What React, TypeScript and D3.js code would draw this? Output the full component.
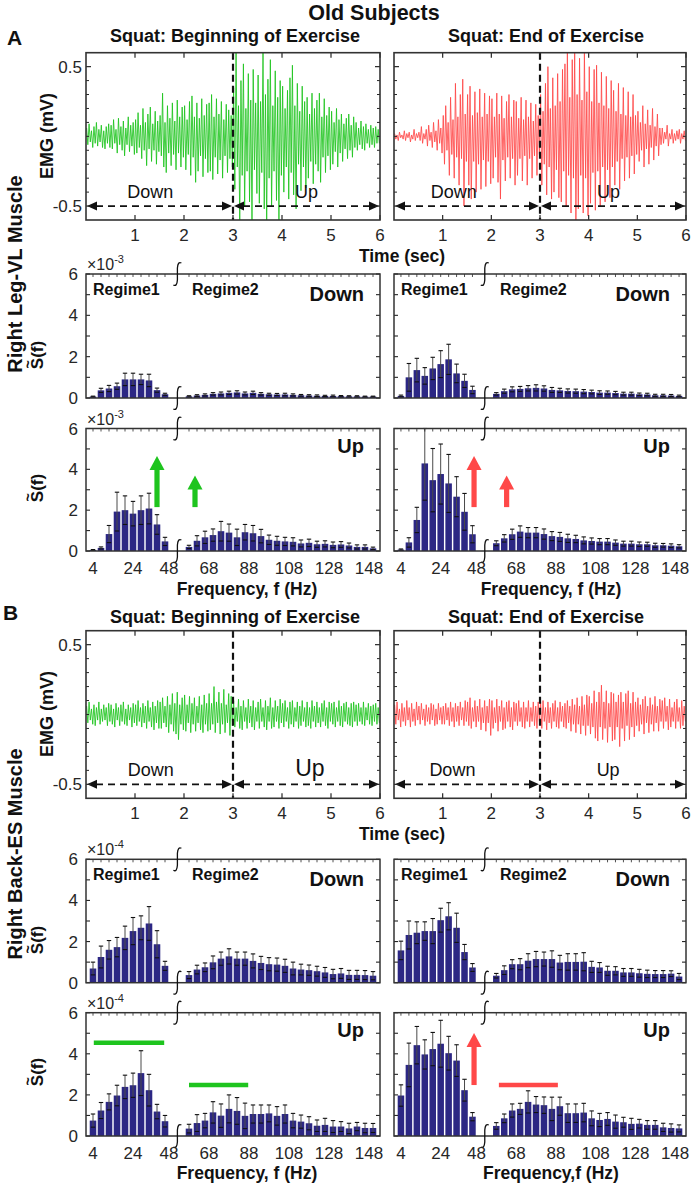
import React from "react";
import * as d3 from "d3";

const FONT = '"Liberation Sans", Arial, Helvetica, sans-serif';
const INK = "#262626";
const GREEN = "#1ec41e";
const RED = "#ff4848";
const BAR = "#2c2784";

// ---------------- EMG traces (per 0.05 s window: upper / lower excursion, mV) ----------------
const EMG_DT = 0.05;
const emgBeginA_hi = [
  0.06,0.09,0.04,0.07,0.10,0.05,0.08,0.04,0.07,0.09,
  0.08,0.12,0.05,0.13,0.07,0.11,0.06,0.14,0.08,0.10,
  0.12,0.17,0.08,0.20,0.10,0.16,0.21,0.09,0.18,0.11,
  0.15,0.31,0.10,0.22,0.13,0.24,0.11,0.26,0.14,0.21,
  0.22,0.12,0.25,0.29,0.14,0.24,0.13,0.27,0.15,0.23,
  0.24,0.30,0.14,0.27,0.16,0.25,0.12,0.23,0.19,0.15,
  0.35,0.62,0.22,0.40,0.52,0.20,0.45,0.26,0.48,0.24,
  0.44,0.25,0.62,0.30,0.41,0.55,0.22,0.47,0.28,0.40,
  0.36,0.20,0.33,0.42,0.51,0.22,0.38,0.18,0.36,0.25,
  0.28,0.16,0.31,0.20,0.26,0.31,0.14,0.27,0.15,0.21,
  0.18,0.10,0.20,0.12,0.16,0.09,0.13,0.16,0.08,0.14,
  0.10,0.06,0.11,0.07,0.09,0.05,0.08,0.06,0.07,0.05,
];
const emgBeginA_lo = [
  -0.06,-0.04,-0.08,-0.05,-0.07,-0.04,-0.08,-0.09,-0.05,-0.08,
  -0.09,-0.05,-0.12,-0.06,-0.10,-0.14,-0.06,-0.11,-0.07,-0.13,
  -0.12,-0.08,-0.16,-0.10,-0.21,-0.09,-0.18,-0.10,-0.20,-0.11,
  -0.14,-0.22,-0.26,-0.12,-0.21,-0.13,-0.24,-0.12,-0.22,-0.15,
  -0.24,-0.13,-0.28,-0.15,-0.33,-0.25,-0.14,-0.29,-0.16,-0.26,
  -0.25,-0.31,-0.15,-0.27,-0.17,-0.30,-0.14,-0.26,-0.16,-0.22,
  -0.38,-0.22,-0.62,-0.28,-0.50,-0.25,-0.47,-0.62,-0.24,-0.41,
  -0.48,-0.26,-0.52,-0.62,-0.30,-0.50,-0.25,-0.46,-0.62,-0.28,
  -0.40,-0.22,-0.45,-0.26,-0.42,-0.52,-0.20,-0.39,-0.22,-0.37,
  -0.30,-0.18,-0.34,-0.20,-0.25,-0.33,-0.15,-0.26,-0.14,-0.24,
  -0.20,-0.11,-0.22,-0.12,-0.18,-0.09,-0.16,-0.10,-0.15,-0.08,
  -0.10,-0.06,-0.09,-0.10,-0.05,-0.08,-0.06,-0.08,-0.05,-0.05,
];
const emgEndA_hi = [
  0.02,0.01,0.03,0.01,0.04,0.02,0.03,0.01,0.05,0.02,
  0.03,0.07,0.02,0.05,0.08,0.03,0.10,0.04,0.12,0.06,
  0.15,0.22,0.10,0.28,0.12,0.38,0.14,0.30,0.41,0.16,
  0.30,0.36,0.15,0.32,0.17,0.34,0.14,0.31,0.16,0.29,
  0.27,0.14,0.31,0.16,0.29,0.13,0.25,0.30,0.14,0.26,
  0.25,0.13,0.28,0.12,0.26,0.14,0.24,0.11,0.23,0.15,
  0.30,0.18,0.38,0.50,0.20,0.42,0.22,0.45,0.25,0.48,
  0.52,0.62,0.28,0.55,0.62,0.30,0.56,0.26,0.62,0.32,
  0.50,0.25,0.48,0.51,0.24,0.46,0.22,0.43,0.20,0.40,
  0.33,0.18,0.38,0.16,0.35,0.15,0.32,0.14,0.30,0.15,
  0.18,0.10,0.22,0.09,0.19,0.08,0.20,0.07,0.16,0.06,
  0.06,0.03,0.08,0.02,0.05,0.02,0.04,0.05,0.02,0.04,
];
const emgEndA_lo = [
  -0.02,-0.03,-0.01,-0.02,-0.03,-0.01,-0.04,-0.02,-0.03,-0.01,
  -0.03,-0.05,-0.02,-0.07,-0.03,-0.08,-0.04,-0.10,-0.05,-0.12,
  -0.20,-0.10,-0.28,-0.13,-0.30,-0.15,-0.35,-0.16,-0.50,-0.18,
  -0.35,-0.45,-0.18,-0.40,-0.20,-0.38,-0.17,-0.36,-0.18,-0.34,
  -0.30,-0.15,-0.33,-0.45,-0.17,-0.32,-0.15,-0.30,-0.16,-0.35,
  -0.28,-0.16,-0.32,-0.14,-0.35,-0.16,-0.30,-0.14,-0.28,-0.13,
  -0.35,-0.20,-0.42,-0.22,-0.45,-0.40,-0.24,-0.44,-0.47,-0.25,
  -0.50,-0.28,-0.55,-0.30,-0.62,-0.52,-0.28,-0.55,-0.30,-0.57,
  -0.48,-0.26,-0.53,-0.25,-0.50,-0.22,-0.47,-0.24,-0.44,-0.22,
  -0.35,-0.18,-0.38,-0.16,-0.32,-0.15,-0.30,-0.14,-0.27,-0.13,
  -0.18,-0.10,-0.22,-0.09,-0.20,-0.08,-0.17,-0.07,-0.14,-0.06,
  -0.05,-0.02,-0.07,-0.02,-0.05,-0.03,-0.02,-0.05,-0.02,-0.03,
];
const emgBeginB_hi = [
  0.06,0.09,0.04,0.07,0.05,0.09,0.04,0.07,0.05,0.08,
  0.07,0.04,0.08,0.05,0.07,0.09,0.04,0.07,0.05,0.08,
  0.07,0.10,0.05,0.08,0.06,0.10,0.05,0.09,0.06,0.10,
  0.09,0.12,0.06,0.13,0.07,0.15,0.08,0.16,0.07,0.12,
  0.14,0.07,0.13,0.08,0.12,0.06,0.13,0.07,0.14,0.08,
  0.15,0.08,0.20,0.09,0.16,0.08,0.18,0.07,0.15,0.13,
  0.10,0.05,0.11,0.06,0.10,0.05,0.11,0.06,0.10,0.05,
  0.09,0.11,0.05,0.10,0.06,0.12,0.05,0.10,0.06,0.11,
  0.08,0.10,0.05,0.09,0.10,0.05,0.09,0.06,0.10,0.05,
  0.09,0.05,0.10,0.06,0.09,0.05,0.08,0.10,0.05,0.09,
  0.08,0.09,0.05,0.10,0.06,0.08,0.09,0.05,0.08,0.09,
  0.07,0.08,0.05,0.09,0.05,0.08,0.06,0.07,0.08,0.05,
];
const emgBeginB_lo = [
  -0.06,-0.04,-0.07,-0.08,-0.04,-0.07,-0.05,-0.04,-0.08,-0.05,
  -0.07,-0.09,-0.04,-0.08,-0.05,-0.07,-0.08,-0.04,-0.09,-0.06,
  -0.08,-0.05,-0.09,-0.06,-0.10,-0.05,-0.09,-0.11,-0.06,-0.10,
  -0.10,-0.06,-0.09,-0.13,-0.07,-0.12,-0.14,-0.18,-0.07,-0.11,
  -0.12,-0.06,-0.13,-0.07,-0.12,-0.06,-0.11,-0.13,-0.07,-0.12,
  -0.11,-0.07,-0.13,-0.06,-0.14,-0.07,-0.13,-0.06,-0.15,-0.08,
  -0.09,-0.05,-0.10,-0.11,-0.05,-0.10,-0.06,-0.09,-0.11,-0.05,
  -0.10,-0.05,-0.09,-0.11,-0.05,-0.10,-0.09,-0.05,-0.10,-0.06,
  -0.09,-0.05,-0.10,-0.07,-0.09,-0.05,-0.10,-0.08,-0.05,-0.09,
  -0.08,-0.10,-0.05,-0.09,-0.06,-0.09,-0.05,-0.08,-0.10,-0.05,
  -0.07,-0.09,-0.05,-0.08,-0.09,-0.05,-0.07,-0.08,-0.09,-0.05,
  -0.08,-0.05,-0.07,-0.08,-0.04,-0.07,-0.08,-0.05,-0.07,-0.06,
];
const emgEndB_hi = [
  0.07,0.09,0.04,0.08,0.05,0.10,0.05,0.08,0.04,0.09,
  0.06,0.08,0.04,0.07,0.05,0.08,0.07,0.04,0.08,0.05,
  0.06,0.08,0.05,0.09,0.05,0.08,0.06,0.09,0.05,0.10,
  0.09,0.12,0.05,0.10,0.06,0.11,0.05,0.10,0.06,0.11,
  0.10,0.05,0.11,0.06,0.10,0.05,0.09,0.10,0.05,0.09,
  0.08,0.10,0.05,0.09,0.05,0.10,0.05,0.09,0.06,0.09,
  0.09,0.10,0.05,0.09,0.05,0.08,0.10,0.05,0.09,0.06,
  0.08,0.10,0.06,0.11,0.07,0.12,0.06,0.13,0.07,0.14,
  0.13,0.08,0.17,0.09,0.16,0.21,0.09,0.17,0.08,0.16,
  0.15,0.09,0.14,0.16,0.09,0.15,0.17,0.08,0.16,0.09,
  0.12,0.07,0.11,0.13,0.06,0.12,0.07,0.13,0.06,0.11,
  0.10,0.12,0.06,0.11,0.05,0.09,0.11,0.05,0.10,0.06,
];
const emgEndB_lo = [
  -0.07,-0.04,-0.09,-0.05,-0.08,-0.04,-0.09,-0.05,-0.08,-0.04,
  -0.07,-0.04,-0.08,-0.05,-0.07,-0.04,-0.08,-0.07,-0.04,-0.07,
  -0.07,-0.04,-0.08,-0.05,-0.09,-0.05,-0.08,-0.04,-0.08,-0.05,
  -0.08,-0.10,-0.05,-0.09,-0.05,-0.11,-0.06,-0.12,-0.06,-0.15,
  -0.10,-0.06,-0.12,-0.05,-0.11,-0.10,-0.05,-0.09,-0.11,-0.05,
  -0.08,-0.05,-0.09,-0.10,-0.05,-0.09,-0.05,-0.08,-0.10,-0.05,
  -0.10,-0.05,-0.11,-0.06,-0.10,-0.05,-0.09,-0.10,-0.05,-0.09,
  -0.10,-0.06,-0.12,-0.07,-0.13,-0.07,-0.14,-0.08,-0.15,-0.08,
  -0.14,-0.09,-0.17,-0.19,-0.09,-0.18,-0.10,-0.20,-0.09,-0.19,
  -0.18,-0.09,-0.23,-0.10,-0.19,-0.08,-0.18,-0.09,-0.16,-0.08,
  -0.12,-0.07,-0.14,-0.06,-0.13,-0.07,-0.12,-0.06,-0.12,-0.05,
  -0.10,-0.05,-0.11,-0.09,-0.05,-0.10,-0.05,-0.10,-0.08,-0.05,
];

// ---------------- Spectra ----------------
const regime1Freqs = [4, 8, 12, 16, 20, 24, 28, 32, 36, 40];
const regime2Freqs = [58, 62, 66, 70, 74, 78, 82, 86, 90, 94, 98, 102, 106, 110, 114, 118, 122, 126, 130, 134, 138, 142, 146, 150];
const freqTickValues = [4, 24, 42, 68, 88, 108, 128, 148];
const freqTickLabels = ["4", "24", "48", "68", "88", "108", "128", "148"];
const specYTicks = [0, 2, 4, 6];
const specYMinor = [1, 3, 5];
const timeTicks = [1, 2, 3, 4, 5, 6];
const emgYTicks = [0.5, -0.5];
const emgYMinor = [-0.4, -0.3, -0.2, -0.1, 0, 0.1, 0.2, 0.3, 0.4];

// Leg (x1e-3)
const legBeginDown = [0.07,0.37,0.46,0.57,0.90,0.90,0.90,0.85,0.38,0.18, 0.08,0.12,0.15,0.20,0.22,0.25,0.27,0.22,0.25,0.20,0.18,0.17,0.17,0.15,0.13,0.12,0.11,0.10,0.10,0.09,0.08,0.08,0.07,0.07];
const legBeginDownErr = [0.02,0.10,0.15,0.15,0.30,0.30,0.25,0.30,0.10,0.05, 0.03,0.04,0.05,0.06,0.07,0.08,0.08,0.07,0.08,0.06,0.05,0.05,0.06,0.05,0.04,0.04,0.04,0.03,0.04,0.03,0.03,0.03,0.02,0.02];
const legBeginUp = [0.05,0.15,0.83,1.93,2.00,1.83,2.00,2.08,1.30,0.47, 0.20,0.50,0.67,0.78,0.97,0.90,0.67,0.92,0.87,0.73,0.55,0.50,0.47,0.45,0.37,0.40,0.33,0.35,0.30,0.32,0.27,0.20,0.20,0.13];
const legBeginUpErr = [0.02,0.05,0.42,0.95,0.70,0.60,0.70,0.75,0.48,0.20, 0.08,0.25,0.30,0.30,0.48,0.42,0.40,0.38,0.38,0.33,0.23,0.22,0.20,0.20,0.17,0.18,0.15,0.15,0.14,0.14,0.12,0.10,0.10,0.06];
const legEndDown = [0.10,1.00,1.35,1.07,1.43,1.64,1.87,1.19,0.83,0.39, 0.20,0.33,0.42,0.44,0.47,0.49,0.46,0.39,0.37,0.34,0.33,0.31,0.29,0.26,0.26,0.24,0.21,0.21,0.18,0.17,0.13,0.13,0.12,0.10];
const legEndDownErr = [0.04,0.67,0.57,0.40,0.54,0.65,0.73,0.45,0.32,0.18, 0.06,0.10,0.12,0.12,0.13,0.15,0.13,0.12,0.10,0.10,0.10,0.10,0.09,0.09,0.08,0.08,0.07,0.07,0.06,0.06,0.05,0.05,0.05,0.04];
const legEndUp = [0.07,0.42,1.52,4.29,3.47,3.77,3.31,2.66,1.92,0.82, 0.38,0.62,0.82,0.95,0.90,0.90,0.83,0.73,0.69,0.62,0.59,0.52,0.49,0.46,0.46,0.41,0.36,0.36,0.33,0.33,0.28,0.28,0.26,0.23];
const legEndUpErr = [0.03,0.23,0.62,1.80,1.55,1.47,1.42,0.98,0.90,0.42, 0.12,0.18,0.25,0.28,0.25,0.25,0.25,0.22,0.22,0.20,0.18,0.17,0.15,0.15,0.15,0.13,0.12,0.12,0.11,0.10,0.10,0.09,0.09,0.08];

// Back (x1e-4)
const backBeginDown = [0.69,1.25,1.60,1.73,2.18,2.51,2.67,2.88,1.87,0.82, 0.37,0.64,0.75,0.99,1.17,1.28,1.17,1.17,1.06,0.96,0.90,0.88,0.82,0.69,0.64,0.61,0.56,0.50,0.42,0.45,0.38,0.38,0.37,0.34];
const backBeginDownErr = [0.31,0.53,0.45,0.47,0.57,0.66,0.58,0.82,0.66,0.22, 0.17,0.21,0.21,0.31,0.32,0.37,0.32,0.32,0.34,0.32,0.32,0.32,0.32,0.31,0.26,0.25,0.24,0.24,0.23,0.24,0.22,0.22,0.22,0.20];
const backBeginUp = [0.75,1.24,1.66,1.97,2.39,2.47,3.06,2.23,1.19,0.72, 0.36,0.63,0.75,1.15,0.99,1.32,1.22,0.98,1.07,1.07,1.10,0.98,1.07,0.75,0.70,0.62,0.50,0.54,0.46,0.46,0.37,0.46,0.39,0.39];
const backBeginUpErr = [0.32,0.39,0.39,0.50,0.57,0.59,1.09,0.77,0.35,0.28, 0.21,0.41,0.35,0.52,0.57,0.68,0.65,0.62,0.44,0.44,0.41,0.45,0.44,0.35,0.32,0.32,0.28,0.32,0.29,0.24,0.25,0.20,0.23,0.22];
const backEndDown = [1.57,2.32,2.43,2.51,2.51,3.04,3.23,2.67,1.49,0.74, 0.34,0.61,0.90,0.90,1.07,1.15,1.15,1.15,0.98,1.01,1.01,1.02,0.77,0.74,0.58,0.58,0.50,0.50,0.46,0.43,0.42,0.42,0.44,0.30];
const backEndDownErr = [0.45,0.68,0.53,0.45,0.61,0.58,0.66,0.71,0.37,0.19, 0.11,0.21,0.22,0.27,0.34,0.37,0.34,0.40,0.35,0.40,0.40,0.44,0.27,0.24,0.22,0.20,0.19,0.19,0.19,0.18,0.17,0.17,0.14,0.15];
const backEndUp = [1.97,3.46,4.42,3.97,4.23,4.49,4.03,3.67,2.23,0.94, 0.49,0.86,1.24,1.32,1.66,1.53,1.50,1.32,1.45,1.11,1.11,1.14,0.86,0.78,0.83,0.70,0.67,0.59,0.60,0.54,0.54,0.42,0.39,0.37];
const backEndUpErr = [0.52,1.06,0.91,0.71,0.81,1.14,0.82,0.77,0.53,0.20, 0.16,0.21,0.32,0.27,0.54,0.39,0.40,0.57,0.44,0.45,0.45,0.45,0.36,0.32,0.31,0.32,0.24,0.27,0.21,0.21,0.21,0.20,0.20,0.17];

// annotations (in data units of each panel: Hz and spectrum value)
const legBeginArrows = [{ f: 36, from: 2.15, to: 4.65 }, { f: 61, from: 2.15, to: 3.7 }];
const legEndArrows = [{ f: 40.8, from: 2.15, to: 4.65 }, { f: 63.2, from: 2.15, to: 3.7 }];
const backBeginLines = [{ f0: 4.4, f1: 39.6, v: 4.54 }, { f0: 58, f1: 87.6, v: 2.48 }];
const backEndArrows = [{ f: 40.8, from: 2.48, to: 5.01 }];
const backEndLines = [{ f0: 59.3, f1: 89, v: 2.48 }];

const COLS = [
  { x0: 86, x1: 380 },
  { x0: 394, x1: 686 },
];

function EmgPanel({ id, x0, x1, y0, y1, hi, lo, color, yLabels, downT, upT, upSize }: any) {
  const xs = d3.scaleLinear().domain([0, 6]).range([x0, x1]);
  const ys = d3.scaleLinear().domain([-0.6, 0.6]).range([y1, y0]);
  const pts: [number, number][] = [];
  hi.forEach((h: number, i: number) => {
    pts.push([i * EMG_DT + EMG_DT * 0.25, h]);
    pts.push([i * EMG_DT + EMG_DT * 0.75, lo[i]]);
  });
  const line = d3.line<[number, number]>().x((d) => xs(d[0])).y((d) => ys(d[1]));
  const ya = ys(-0.5);
  const xm = xs(3);
  const head = (xTip: number, dir: number) =>
    `${xTip},${ya} ${xTip - dir * 10},${ya - 4.5} ${xTip - dir * 10},${ya + 4.5}`;
  return (
    <g>
      <defs>
        <clipPath id={id}>
          <rect x={x0} y={y0} width={x1 - x0} height={y1 - y0} />
        </clipPath>
      </defs>
      <path d={line(pts) || ""} fill="none" stroke={color} strokeWidth={0.85} clipPath={`url(#${id})`} />
      <line x1={xm} x2={xm} y1={y0} y2={y1} stroke="#111" strokeWidth={2.2} strokeDasharray="7 4" />
      <line x1={xs(0) + 10} x2={xm - 10} y1={ya} y2={ya} stroke="#111" strokeWidth={1.8} strokeDasharray="7 5" />
      <line x1={xm + 10} x2={xs(6) - 10} y1={ya} y2={ya} stroke="#111" strokeWidth={1.8} strokeDasharray="7 5" />
      <polygon points={head(xs(0) + 1, -1)} fill="#111" />
      <polygon points={head(xm - 1, 1)} fill="#111" />
      <polygon points={head(xm + 1, -1)} fill="#111" />
      <polygon points={head(xs(6) - 1, 1)} fill="#111" />
      <text x={xs(downT)} y={ya - 8} fontSize={18} textAnchor="middle" fill="#111">Down</text>
      <text x={xs(upT)} y={ya - 8} fontSize={upSize} textAnchor="middle" fill="#111">Up</text>
      {emgYMinor.map((v) => (
        <g key={"m" + v}>
          <line x1={x0} x2={x0 + 3} y1={ys(v)} y2={ys(v)} stroke={INK} />
          <line x1={x1} x2={x1 - 3} y1={ys(v)} y2={ys(v)} stroke={INK} />
        </g>
      ))}
      {emgYTicks.map((v) => (
        <g key={"t" + v}>
          <line x1={x0} x2={x0 + 5} y1={ys(v)} y2={ys(v)} stroke={INK} strokeWidth={1.2} />
          <line x1={x1} x2={x1 - 5} y1={ys(v)} y2={ys(v)} stroke={INK} strokeWidth={1.2} />
          {yLabels && (
            <text x={x0 - 4} y={ys(v) + 6} fontSize={17} textAnchor="end" fill={INK}>
              {v > 0 ? "0.5" : "-0.5"}
            </text>
          )}
        </g>
      ))}
      {timeTicks.map((t) => (
        <g key={"x" + t}>
          <line x1={xs(t)} x2={xs(t)} y1={y1} y2={y1 - 5} stroke={INK} strokeWidth={1.2} />
          <line x1={xs(t)} x2={xs(t)} y1={y0} y2={y0 + 5} stroke={INK} strokeWidth={1.2} />
          <text x={xs(t)} y={y1 + 21} fontSize={17} textAnchor="middle" fill={INK}>{t}</text>
        </g>
      ))}
      <rect x={x0} y={y0} width={x1 - x0} height={y1 - y0} fill="none" stroke="#333" strokeWidth={1.6} />
    </g>
  );
}

function breakPath(x: number, y: number) {
  return `M ${x + 4} ${y - 11} Q ${x + 0.5} ${y - 13} ${x} ${y - 6} L ${x} ${y + 6} Q ${x - 0.5} ${y + 13} ${x - 4} ${y + 11}`;
}

function SpecPanel({ x0, x1, y0, y1, mean, err, yLabels, label, regime, exp, arrows, hlines, color }: any) {
  const slotW = (x1 - x0) / 36.75;
  const xb = x0 + 11.425 * slotW;
  const xs = d3.scaleLinear().domain([0.5, 46.2, 52.2, 153.5]).range([x0, xb, xb, x1]);
  const ys = d3.scaleLinear().domain([0, 6]).range([y1, y0]);
  const freqs = [...regime1Freqs, ...regime2Freqs];
  const bw = slotW * 0.82;
  const cap = 2.2;
  return (
    <g>
      {freqs.map((f, i) => (
        <rect key={"b" + i} x={xs(f) - bw / 2} y={ys(mean[i])} width={bw} height={ys(0) - ys(mean[i])} fill={BAR} />
      ))}
      {freqs.map((f, i) => {
        const top = Math.min(6, mean[i] + err[i]);
        const bot = Math.max(0, mean[i] - err[i]);
        const x = xs(f);
        return (
          <g key={"e" + i}>
            <line x1={x} x2={x} y1={ys(bot)} y2={ys(top)} stroke="#4a4a4a" strokeWidth={1} />
            <line x1={x - cap} x2={x + cap} y1={ys(top)} y2={ys(top)} stroke="#111" strokeWidth={1.1} />
            <line x1={x - cap} x2={x + cap} y1={ys(bot)} y2={ys(bot)} stroke="#111" strokeWidth={1.1} />
          </g>
        );
      })}
      {freqs.map((f, i) => (
        <line key={"xt" + i} x1={xs(f)} x2={xs(f)} y1={y0} y2={y0 + 3} stroke={INK} strokeWidth={0.8} />
      ))}
      {[...specYTicks, ...specYMinor].map((v) => (
        <g key={"yt" + v}>
          <line x1={x0} x2={x0 + 4} y1={ys(v)} y2={ys(v)} stroke={INK} strokeWidth={1.1} />
          <line x1={x1} x2={x1 - 4} y1={ys(v)} y2={ys(v)} stroke={INK} strokeWidth={1.1} />
        </g>
      ))}
      {yLabels &&
        specYTicks.map((v) => (
          <text key={"yl" + v} x={x0 - 8} y={ys(v) + 6} fontSize={17} textAnchor="end" fill={INK}>{v}</text>
        ))}
      {exp && (
        <text x={x0 + 1} y={y0 - 4} fontSize={16} fill={INK}>
          ×10<tspan fontSize={11} dy={-7}>{exp}</tspan>
        </text>
      )}
      <rect x={x0} y={y0} width={x1 - x0} height={y1 - y0} fill="none" stroke="#333" strokeWidth={1.5} />
      <path d={breakPath(xb, y0)} fill="none" stroke="#111" strokeWidth={1.3} />
      <path d={breakPath(xb, y1)} fill="none" stroke="#111" strokeWidth={1.3} />
      {regime && (
        <g fontWeight="bold" fontSize={16} fill="#111">
          <text x={x0 + 7} y={y0 + 21}>Regime1</text>
          <text x={x0 + 106} y={y0 + 21}>Regime2</text>
        </g>
      )}
      <text x={x1 - 16} y={y0 + (label === "Down" ? 27 : 24)} fontWeight="bold" fontSize={20} textAnchor="end" fill="#111">
        {label}
      </text>
      {(arrows || []).map((a: any, i: number) => {
        const x = xs(a.f);
        const yTip = ys(a.to);
        const yB = ys(a.from);
        return (
          <g key={"ar" + i} fill={color}>
            <rect x={x - 2.6} y={yTip + 13} width={5.2} height={yB - yTip - 13} />
            <polygon points={`${x},${yTip} ${x - 7.5},${yTip + 14} ${x + 7.5},${yTip + 14}`} />
          </g>
        );
      })}
      {(hlines || []).map((h: any, i: number) => (
        <line key={"hl" + i} x1={xs(h.f0)} x2={xs(h.f1)} y1={ys(h.v)} y2={ys(h.v)} stroke={color} strokeWidth={4.4} />
      ))}
      {label === "Up" &&
        freqTickValues.map((v, i) => (
          <text key={"xl" + i} x={xs(v)} y={y1 + 23} fontSize={17} textAnchor="middle" fill={INK}>
            {freqTickLabels[i]}
          </text>
        ))}
    </g>
  );
}

function RotText({ x, y, children, size, bold = true }: any) {
  return (
    <text transform={`translate(${x},${y}) rotate(-90)`} textAnchor="middle" fontSize={size} fontWeight={bold ? "bold" : "normal"} fill="#111">
      {children}
    </text>
  );
}

function SLabel({ x, y }: any) {
  return (
    <g transform={`translate(${x},${y}) rotate(-90)`} fill="#111" fontWeight="bold">
      <text x={0} y={0} textAnchor="middle" fontSize={17}>S(f)</text>
      <text x={-9.5} y={-10} textAnchor="middle" fontSize={14}>~</text>
    </g>
  );
}

export default function App() {
  const [L, R] = COLS;
  const emgA = { y0: 52.7, y1: 220 };
  const sAd = { y0: 274, y1: 398 };
  const sAu = { y0: 428.5, y1: 551 };
  const emgB = { y0: 630.7, y1: 798.3 };
  const sBd = { y0: 859.3, y1: 982.7 };
  const sBu = { y0: 1012.7, y1: 1136 };
  return (
    <svg width={693} height={1189} style={{ position: "absolute", left: 0, top: 0, background: "#fff" }} fontFamily={FONT}>
      <rect x={0} y={0} width={693} height={1189} fill="#fff" />
      <text x={374} y={20} fontSize={21.5} fontWeight="bold" textAnchor="middle" fill="#111">Old Subjects</text>
      <text x={7} y={45} fontSize={21} fontWeight="bold" fill="#111">A</text>
      <text x={3} y={620} fontSize={21} fontWeight="bold" fill="#111">B</text>

      <text x={235} y={42} fontSize={18} fontWeight="bold" textAnchor="middle" fill="#111">Squat: Beginning of Exercise</text>
      <text x={546} y={42} fontSize={18} fontWeight="bold" textAnchor="middle" fill="#111">Squat: End of Exercise</text>
      <text x={235} y={623} fontSize={18} fontWeight="bold" textAnchor="middle" fill="#111">Squat: Beginning of Exercise</text>
      <text x={546} y={623} fontSize={18} fontWeight="bold" textAnchor="middle" fill="#111">Squat: End of Exercise</text>

      <RotText x={22} y={274} size={20}>Right Leg-VL Muscle</RotText>
      <RotText x={22} y={854} size={20}>Right Back-ES Muscle</RotText>
      <RotText x={53} y={136} size={18}>EMG (mV)</RotText>
      <RotText x={53} y={714} size={18}>EMG (mV)</RotText>
      <SLabel x={43} y={355} />
      <SLabel x={43} y={488} />
      <SLabel x={43} y={940} />
      <SLabel x={43} y={1072} />

      <EmgPanel id="c1" {...L} {...emgA} hi={emgBeginA_hi} lo={emgBeginA_lo} color={GREEN} yLabels downT={1.31} upT={4.5} upSize={18} />
      <EmgPanel id="c2" {...R} {...emgA} hi={emgEndA_hi} lo={emgEndA_lo} color={RED} yLabels={false} downT={1.23} upT={4.41} upSize={18} />
      <EmgPanel id="c3" {...L} {...emgB} hi={emgBeginB_hi} lo={emgBeginB_lo} color={GREEN} yLabels downT={1.32} upT={4.57} upSize={23} />
      <EmgPanel id="c4" {...R} {...emgB} hi={emgEndB_hi} lo={emgEndB_lo} color={RED} yLabels={false} downT={1.2} upT={4.4} upSize={18} />

      <text x={402} y={262} fontSize={17.5} fontWeight="bold" textAnchor="middle" fill="#111">Time (sec)</text>
      <text x={402} y={840} fontSize={17.5} fontWeight="bold" textAnchor="middle" fill="#111">Time (sec)</text>

      <SpecPanel {...L} {...sAd} mean={legBeginDown} err={legBeginDownErr} yLabels label="Down" regime exp="-3" />
      <SpecPanel {...L} {...sAu} mean={legBeginUp} err={legBeginUpErr} yLabels label="Up" exp="-3" arrows={legBeginArrows} color={GREEN} />
      <SpecPanel {...R} {...sAd} mean={legEndDown} err={legEndDownErr} label="Down" regime />
      <SpecPanel {...R} {...sAu} mean={legEndUp} err={legEndUpErr} label="Up" arrows={legEndArrows} color={RED} />

      <SpecPanel {...L} {...sBd} mean={backBeginDown} err={backBeginDownErr} yLabels label="Down" regime exp="-4" />
      <SpecPanel {...L} {...sBu} mean={backBeginUp} err={backBeginUpErr} yLabels label="Up" exp="-4" hlines={backBeginLines} color={GREEN} />
      <SpecPanel {...R} {...sBd} mean={backEndDown} err={backEndDownErr} label="Down" regime />
      <SpecPanel {...R} {...sBu} mean={backEndUp} err={backEndUpErr} label="Up" arrows={backEndArrows} hlines={backEndLines} color={RED} />

      <text x={247} y={595} fontSize={17.5} fontWeight="bold" textAnchor="middle" fill="#111">Frequency, f (Hz)</text>
      <text x={551} y={595} fontSize={17.5} fontWeight="bold" textAnchor="middle" fill="#111">Frequency, f (Hz)</text>
      <text x={247} y={1179} fontSize={17.5} fontWeight="bold" textAnchor="middle" fill="#111">Frequency, f (Hz)</text>
      <text x={551} y={1179} fontSize={17.5} fontWeight="bold" textAnchor="middle" fill="#111">Frequency,f (Hz)</text>
    </svg>
  );
}
